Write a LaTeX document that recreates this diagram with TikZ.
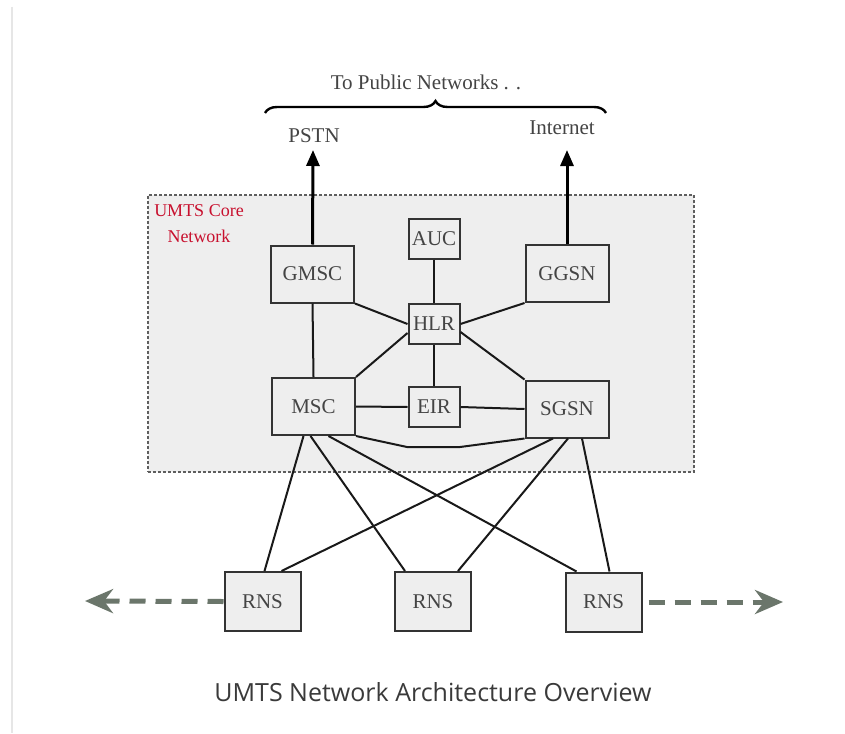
\documentclass[tikz,border=0pt]{standalone}
\usepackage{fontspec}
\setmainfont{Liberation Serif}
\newfontfamily\captionfont{Open Sans}
\usetikzlibrary{arrows.meta,decorations.pathreplacing,calc}

\definecolor{boxfill}{HTML}{EEEEEE}
\definecolor{boxline}{HTML}{333333}
\definecolor{labeltext}{HTML}{444444}
\definecolor{coreline}{HTML}{5E5E5E}
\definecolor{corered}{HTML}{C8102E}
\definecolor{roamgray}{HTML}{6B766B}
\definecolor{edgegray}{HTML}{E6E6E6}
\definecolor{captiongray}{HTML}{3A3A3A}

\tikzset{
  unit/.style={draw=boxline, fill=boxfill, line width=2pt, text=labeltext,
    font=\fontsize{21}{25}\selectfont, inner sep=0pt},
  bigunit/.style={unit, minimum width=83pt, minimum height=57pt},
  smallunit/.style={unit, minimum width=51pt, minimum height=40pt},
  rnsunit/.style={unit, minimum width=76pt, minimum height=59pt},
  link/.style={draw=black!90, line width=2pt},
  uplink/.style={draw=black, line width=3pt, -{Triangle[length=16pt,width=13pt]}},
  roam/.style={draw=roamgray, line width=5pt, dash pattern=on 16pt off 10pt,
    -{Stealth[length=28pt,width=24pt,inset=9pt]}},
  corearea/.style={draw=coreline, fill=boxfill, line width=2pt,
    dash pattern=on 3pt off 2pt},
  toplabel/.style={text=labeltext, font=\fontsize{21}{25}\selectfont, inner sep=0pt},
}

\begin{document}
\begin{tikzpicture}[x=1pt, y=-1pt]
\useasboundingbox (0,0) rectangle (845,733);
\fill[white] (0,0) rectangle (845,733);
% thin rule down the left margin
\draw[edgegray, line width=2pt] (12,7) -- (12,733);

% core network area
\node[corearea, minimum width=546pt, minimum height=277pt, inner sep=0pt]
  (core) at (421,333.5) {};
\node[text=corered, align=center, font=\fontsize{18}{26}\selectfont, inner sep=0pt]
  (corelabel) at (199,224) {UMTS Core\\Network};

% core network elements
\node[bigunit]   (gmsc) at (312.5,274)   {GMSC};
\node[smallunit] (auc)  at (434,238.5)   {AUC};
\node[bigunit]   (ggsn) at (567,273.5)   {GGSN};
\node[smallunit] (hlr)  at (434,324)     {HLR};
\node[bigunit]   (msc)  at (313.5,406.5) {MSC};
\node[smallunit] (eir)  at (434,407)     {EIR};
\node[bigunit]   (sgsn) at (567,409)     {SGSN};

% radio network subsystems
\node[rnsunit] (rnsa) at (262.5,601.5) {RNS};
\node[rnsunit] (rnsb) at (433,601.5)   {RNS};
\node[rnsunit] (rnsc) at (603.5,602)   {RNS};

% public networks
\node[toplabel] (pstn) at (314,136) {PSTN};
\node[toplabel] (internet) at (562,128) {Internet};
\node[text=labeltext, font=\fontsize{21}{25}\selectfont, inner sep=0pt]
  (public) at (426,82) {To Public Networks . .};
\coordinate (bracel) at (265,113);
\coordinate (bracer) at (606,113);
\draw[black, line width=2.4pt, decorate, decoration={brace, amplitude=12pt}]
  (bracel) -- (bracer);

\coordinate (pstntip) at (313,150);
\coordinate (nettip) at (567,150);
\draw[uplink] (gmsc.north) -- (pstntip);
\draw[uplink] (ggsn.north) -- (nettip);

% core links
\draw[link] (gmsc.south) -- (msc.north);
\draw[link] (auc.south) -- (hlr.north);
\draw[link] (hlr.south) -- (eir.north);
\draw[link] (gmsc.south east) -- (hlr.west);
\draw[link] (ggsn.south west) -- (hlr.east);
\draw[link] ([yshift=-9pt]hlr.west) -- (msc.north east);
\draw[link] ([yshift=-8pt]hlr.east) -- (sgsn.north west);
\draw[link] (msc.east) -- (eir.west);
\draw[link] (eir.east) -- (sgsn.west);
\coordinate (bendl) at (407,447);
\coordinate (bendr) at (460,447);
\draw[link] (msc.south east) -- (bendl) -- (bendr) -- (sgsn.south west);

% access links
\draw[link] ([xshift=-10pt]msc.south) -- ([xshift=2pt]rnsa.north);
\draw[link] ([xshift=-3pt]msc.south) -- ([xshift=-28pt]rnsb.north);
\draw[link] ([xshift=15pt]msc.south) -- ([xshift=-27pt]rnsc.north);
\draw[link] ([xshift=-14pt]sgsn.south) -- ([xshift=19pt]rnsa.north);
\draw[link] ([xshift=1pt]sgsn.south) -- ([xshift=25pt]rnsb.north);
\draw[link] ([xshift=15pt]sgsn.south) -- ([xshift=6pt]rnsc.north);

% roaming towards neighbouring networks
\coordinate (roaml) at (85,601);
\coordinate (roamr) at (783,602);
\draw[roam] (rnsa.west) -- (roaml);
\draw[roam] ([xshift=6pt]rnsc.east) -- (roamr);

% caption
\node[text=captiongray, font=\captionfont\fontsize{25}{30}\selectfont, inner sep=0pt]
  (caption) at (433,692) {UMTS Network Architecture Overview};
\end{tikzpicture}
\end{document}
